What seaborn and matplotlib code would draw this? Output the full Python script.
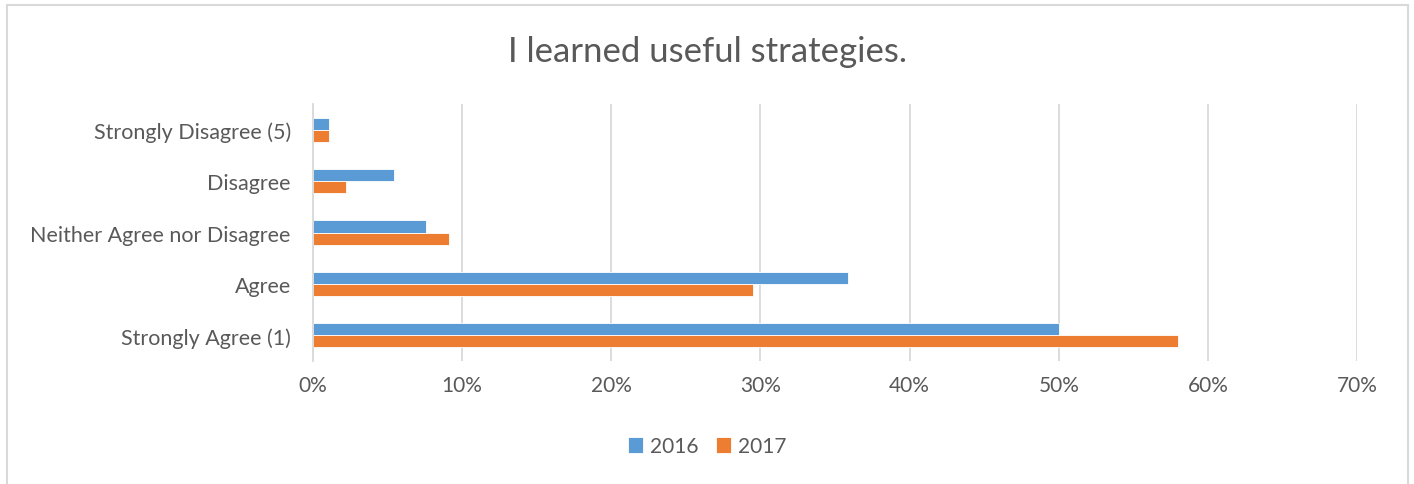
import numpy as np
import pandas as pd
import matplotlib
matplotlib.use('Agg')
import matplotlib.pyplot as plt
import matplotlib.patches as mpatches
from matplotlib.ticker import PercentFormatter
import seaborn as sns

# data
categories = ['Strongly Disagree (5)', 'Disagree', 'Neither Agree nor Disagree',
              'Agree', 'Strongly Agree (1)']
years = ['2016', '2017']
vals_2016 = [0.011, 0.054, 0.076, 0.359, 0.500]
vals_2017 = [0.011, 0.022, 0.091, 0.295, 0.580]

df = pd.DataFrame({
    'response': categories * 2,
    'year': [years[0]] * 5 + [years[1]] * 5,
    'pct': vals_2016 + vals_2017,
})

sns.set_theme(style='white')
plt.rcParams['font.family'] = ['Lato', 'DejaVu Sans']
grey = '#595959'

fig = plt.figure(figsize=(14.14, 4.85), dpi=100)
ax = fig.add_axes([0.2214, 0.2536, 0.7383, 0.5299])

sns.barplot(data=df, x='pct', y='response', hue='year', orient='h',
            order=categories, hue_order=years,
            palette=['#5B9BD5', '#ED7D31'], width=0.47,
            saturation=1, edgecolor='white', linewidth=0.6, ax=ax)

ax.set_xlim(0, 0.70)
ax.set_xticks(np.arange(0, 0.71, 0.10))
ax.xaxis.set_major_formatter(PercentFormatter(1.0, decimals=0))
ax.grid(axis='x', color='#d9d9d9', linewidth=1.3)
ax.set_axisbelow(True)
for s in ['top', 'right', 'bottom']:
    ax.spines[s].set_visible(False)
ax.spines['left'].set_color('#d9d9d9')
ax.spines['left'].set_linewidth(1.3)
ax.tick_params(axis='x', length=0, labelsize=15, colors=grey, pad=10)
ax.tick_params(axis='y', length=0, labelsize=15.5, colors=grey, pad=16)
ax.set_xlabel('')
ax.set_ylabel('')

fig.text(0.5, 0.893, 'I learned useful strategies.', ha='center', va='center',
         fontsize=25, color=grey)

handles, labels = ax.get_legend_handles_labels()
ax.legend(handles, labels, loc='center', bbox_to_anchor=(0.5, 0.078),
          bbox_transform=fig.transFigure, ncol=2, frameon=False,
          fontsize=15, handlelength=0.75, handleheight=0.75,
          columnspacing=0.85, handletextpad=0.3, labelcolor=grey)

# outer chart frame
fig.patches.append(mpatches.Rectangle((7 / 1414, -0.05), 1401 / 1414, 1.05 - 6 / 485,
                                      transform=fig.transFigure, fill=False,
                                      edgecolor='#d9d9d9', linewidth=1.5))

fig.savefig('out.png', dpi=100)
